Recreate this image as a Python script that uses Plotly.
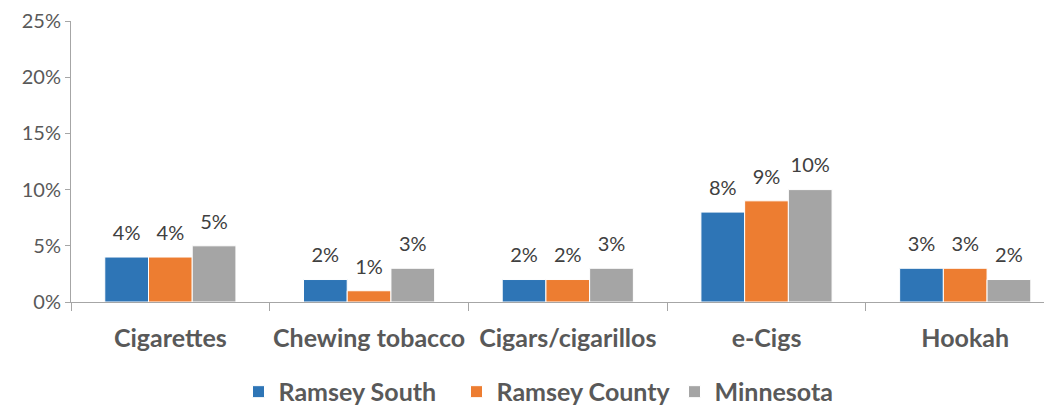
import plotly.graph_objects as go

categories = ["Cigarettes", "Chewing tobacco", "Cigars/cigarillos", "e-Cigs", "Hookah"]
series_names = ["Ramsey South", "Ramsey County", "Minnesota"]
ramsey_south = [0.04, 0.02, 0.02, 0.08, 0.03]
ramsey_county = [0.04, 0.01, 0.02, 0.09, 0.03]
minnesota = [0.05, 0.03, 0.03, 0.10, 0.02]
colors = ["#2E75B6", "#ED7D31", "#A5A5A5"]
y_ticks = [0, 0.05, 0.10, 0.15, 0.20, 0.25]
y_tick_labels = ["0%", "5%", "10%", "15%", "20%", "25%"]

FONT = "Lato"
fig = go.Figure()
all_vals = [ramsey_south, ramsey_county, minnesota]
for name, vals, col in zip(series_names, all_vals, colors):
    fig.add_trace(go.Bar(
        name=name, x=categories, y=vals, offsetgroup=name,
        marker=dict(color=col, line=dict(color="white", width=1)),
    ))
for name, vals in zip(series_names, all_vals):
    fig.add_trace(go.Scatter(
        x=categories, y=vals, mode="markers+text", offsetgroup=name,
        marker=dict(size=18, opacity=0), showlegend=False, hoverinfo="skip",
        text=[f"{round(v * 100)}%" for v in vals], textposition="top center",
        textfont=dict(family=FONT, size=20, color="#404040"), cliponaxis=False,
    ))

fig.update_layout(
    width=1052, height=406,
    margin=dict(l=63, r=0, t=13, b=112, autoexpand=False),
    paper_bgcolor="white", plot_bgcolor="white",
    barmode="group", bargap=0.34, bargroupgap=0,
    scattermode="group", scattergap=0.34,
    font=dict(family=FONT, color="#595959"),
    showlegend=True,
    legend=dict(orientation="h", x=0.50, xanchor="center", y=-0.32, yanchor="middle",
                font=dict(family=FONT, size=25, color="#595959", weight="bold"),
                itemwidth=30, traceorder="normal",
                entrywidth=173, entrywidthmode="pixels"),
    xaxis=dict(
        range=[-0.5, 4.477], showline=True, linecolor="#A6A6A6", linewidth=1,
        ticks="outside", tickson="boundaries", ticklen=8, tickcolor="#A6A6A6",
        tickangle=0, automargin=False,
        tickfont=dict(family=FONT, size=25, color="#595959", weight="bold"),
        ticklabelstandoff=14, showgrid=False,
    ),
    yaxis=dict(
        range=[0, 0.25], tickvals=y_ticks, ticktext=y_tick_labels,
        showline=True, linecolor="#A6A6A6", linewidth=1,
        ticks="outside", ticklen=5, tickcolor="#A6A6A6", automargin=False,
        tickfont=dict(family=FONT, size=20, color="#595959"),
        showgrid=False, zeroline=False,
    ),
)
fig.write_html("out.html")
